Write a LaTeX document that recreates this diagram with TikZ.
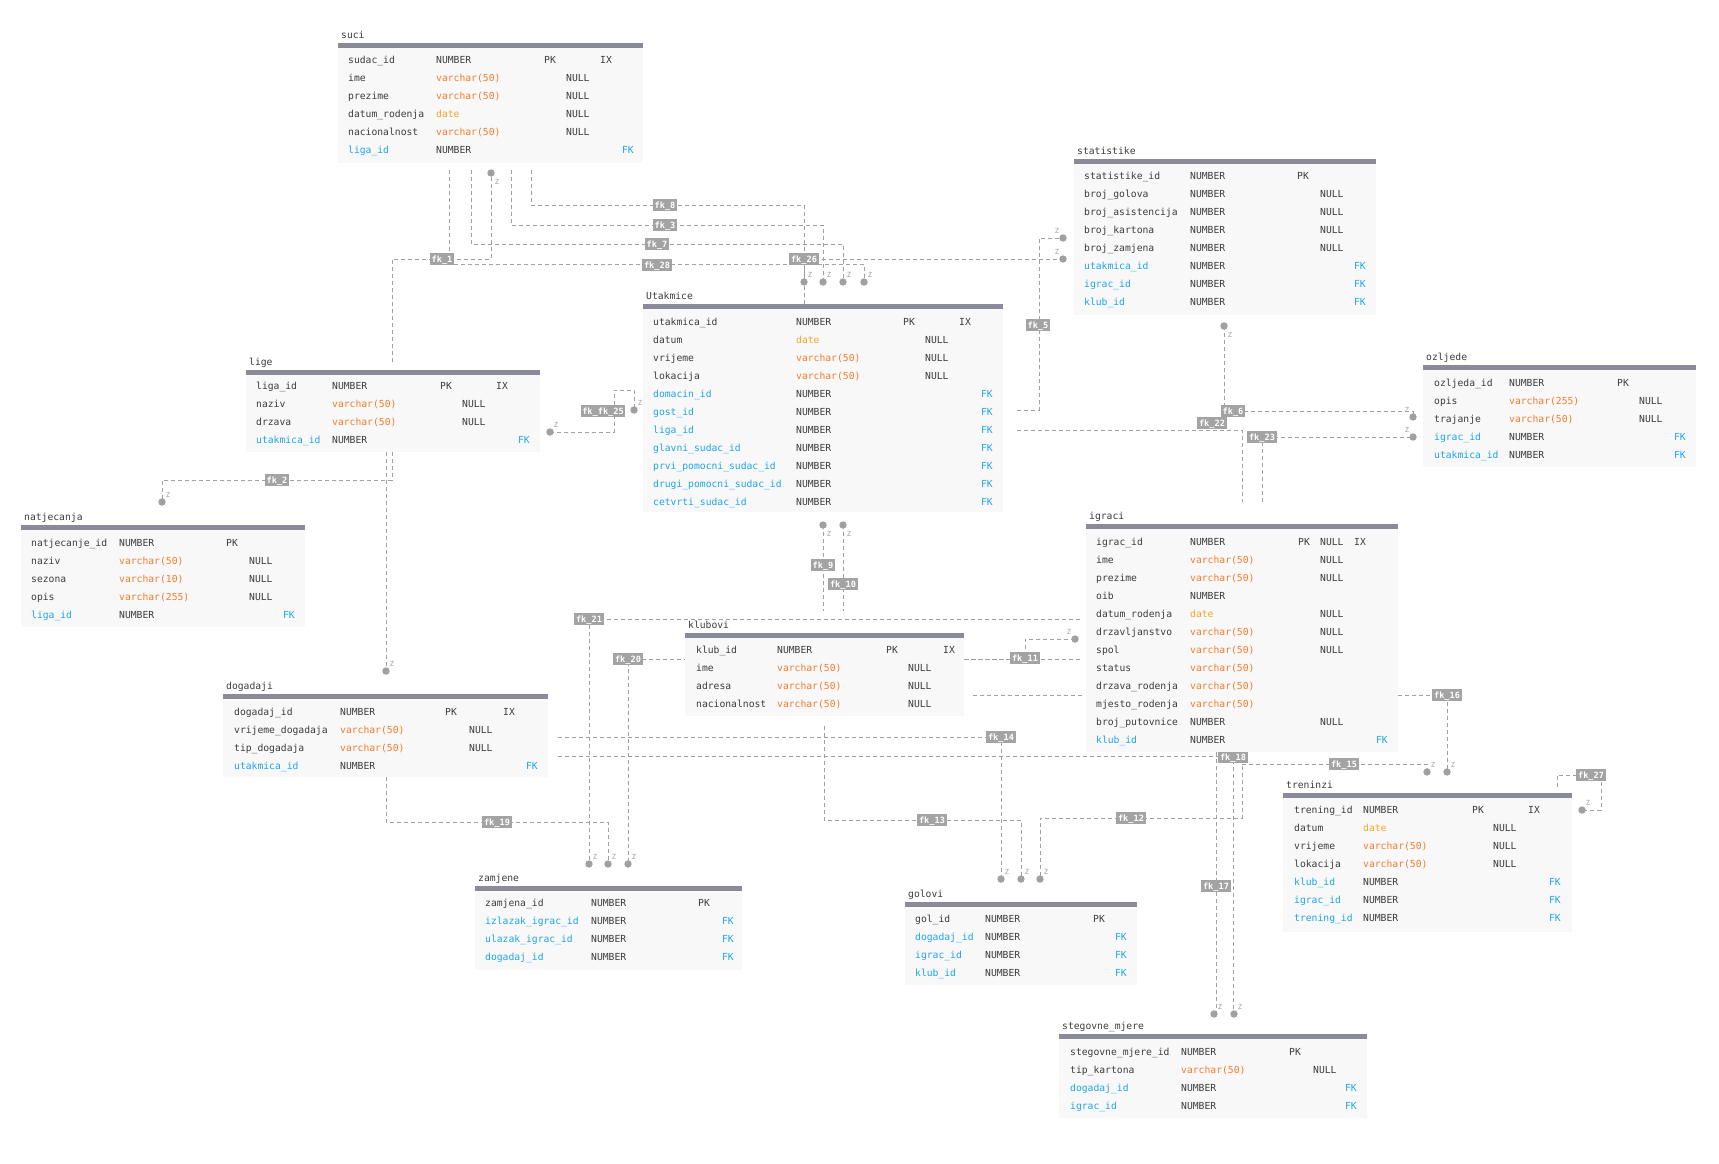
\documentclass[tikz,border=0pt]{standalone}
\usepackage{fontspec}
\newfontfamily\dmono{DejaVu Sans Mono}
\definecolor{txt}{HTML}{3C3C3C}
\definecolor{vch}{HTML}{F47B2A}
\definecolor{dat}{HTML}{F5A623}
\definecolor{fkc}{HTML}{1EA5EA}
\definecolor{barc}{HTML}{8A8A98}
\definecolor{bgc}{HTML}{F8F8F9}
\definecolor{lnc}{HTML}{A0A0A0}
\definecolor{labc}{HTML}{A3A3A3}
\tikzset{
  cell/.style={anchor=west, inner sep=0pt, text height=7.3pt, text depth=0pt,
    font=\fontsize{9.7}{11}\dmono, text=txt, yshift=-1pt},
  vc/.style={text=vch}, dt/.style={text=dat}, fkn/.style={text=fkc},
  rel/.style={draw=lnc, dash pattern=on 4pt off 3pt, line width=0.8pt},
  fklab/.style={fill=labc, text=white, inner sep=1.6pt, text height=7pt, text depth=1pt,
    font=\fontsize{8.6}{9}\dmono\bfseries},
  zl/.style={inner sep=0pt, font=\fontsize{7}{8}\dmono, text=lnc},
  tbox/.style={fill=bgc, inner sep=0pt, anchor=north west},
}
% table frame: id, title, x0, x1, y of bar, y of bottom
\newcommand\ertab[6]{%
  \node[tbox, minimum width={#4-#3}, minimum height={#6-#5}] (#1) at (#3,#5) {};
  \fill[barc] (#3,#5) rectangle (#4,#5+5);
  \node[cell] (#1-title) at (#3+3,#5-9.5) {#2};
}
% plain row: prefix, y, name, type style, type, pk, null, ix
\newcommand\prow[8]{%
  \node[cell] (#1n) at (\cN,#2) {#3};
  \node[cell,#4] (#1t) at (\cT,#2) {#5};
  \node[cell] (#1p) at (\cP,#2) {#6};
  \node[cell] (#1u) at (\cU,#2) {#7};
  \node[cell] (#1i) at (\cI,#2) {#8};
}
% foreign key row: prefix, y, name
\newcommand\krow[3]{%
  \node[cell,fkn] (#1n) at (\cN,#2) {#3};
  \node[cell] (#1t) at (\cT,#2) {NUMBER};
  \node[cell,fkn,anchor=east] (#1f) at (\cF,#2) {FK};
}
% end dot with its Z mark: name, position, offset of the mark
\newcommand\edot[3]{%
  \coordinate (#1) at #2;
  \fill[lnc] (#1) circle (3.7pt);
  \node[zl] (#1-z) at ([shift={#3}]#1) {Z};
}
\def\zur{(6,-7)}
\def\zdr{(6,9)}
\def\zul{(-6,-7)}
\begin{document}
\begin{tikzpicture}[x=1pt,y=-1pt]
\useasboundingbox (0,0) rectangle (1719,1163);
\fill[white] (0,0) rectangle (1719,1163);

% ---------- relationship end points ----------
\edot{d8}{(804,282)}{\zur}
\edot{d3}{(823,282)}{\zur}
\edot{d7}{(843,282)}{\zur}
\edot{d28}{(864,282)}{\zur}
\edot{d1}{(491,173)}{\zdr}
\edot{d26}{(1063,259)}{\zul}
\edot{d5}{(1063,238)}{\zul}
\edot{d2}{(162,502)}{\zur}
\edot{d4}{(386,671)}{\zur}
\edot{d19}{(608,864)}{\zur}
\edot{d21}{(589,864)}{\zur}
\edot{d20}{(628,864)}{\zur}
\edot{d11}{(1075,639)}{\zul}
\edot{d14}{(1001,879)}{\zur}
\edot{d13}{(1021,879)}{\zur}
\edot{d12}{(1040,879)}{\zur}
\edot{d17}{(1214,1014)}{\zur}
\edot{d18}{(1234,1014)}{\zur}
\edot{d15}{(1427,772)}{\zur}
\edot{d16}{(1447,772)}{\zur}
\edot{d27}{(1582,810)}{\zur}
\edot{d6}{(1413,417)}{\zul}
\edot{d23}{(1413,437)}{\zul}
\edot{d22}{(1224,326)}{\zdr}
\edot{d25}{(634,410)}{\zur}
\edot{d25b}{(550,432)}{\zur}
\edot{d9}{(823,525)}{\zdr}
\edot{d10}{(843,525)}{\zdr}

% ---------- relationship lines ----------
\draw[rel] (531,170) -- (531,205) -- (804,205) -- (d8);
\draw[rel] (511,170) -- (511,225) -- (823,225) -- (d3);
\draw[rel] (471,170) -- (471,244) -- (843,244) -- (d7);
\draw[rel] (449.5,170) -- (449.5,264) -- (864,264) -- (d28);
\draw[rel] (392,362) -- (392,259) -- (491,259) -- (d1);
\draw[rel] (804,304) -- (804,259) -- (d26);
\draw[rel] (1017,410) -- (1039,410) -- (1039,238) -- (d5);
\draw[rel] (392,452) -- (392,480) -- (162,480) -- (d2);
\draw[rel] (386,452) -- (d4);
\draw[rel] (386,777) -- (386,822) -- (608,822) -- (d19);
\draw[rel] (1080,619) -- (589,619) -- (d21);
\draw[rel] (1080,659) -- (628,659) -- (d20);
\draw[rel] (965,659) -- (1025,659) -- (1025,639) -- (d11);
\draw[rel] (973,695) -- (1083,695);
\draw[rel] (558,737) -- (1001,737) -- (d14);
\draw[rel] (824,726) -- (824,820) -- (1021,820) -- (d13);
\draw[rel] (1242,752) -- (1242,818) -- (1040,818) -- (d12);
\draw[rel] (558,756) -- (1233,756) -- (1233,1014) -- (d18);
\draw[rel] (1216,752) -- (1216,1014) -- (d17);
\draw[rel] (1242,764) -- (1427,764) -- (d15);
\draw[rel] (1398,695) -- (1447,695) -- (d16);
\draw[rel] (1557,787) -- (1557,775) -- (1601,775) -- (1601,810) -- (d27);
\draw[rel] (d22) -- (1224,411) -- (1413,411) -- (d6);
\draw[rel] (1017,430) -- (1242,430) -- (1242,502);
\draw[rel] (1262,502) -- (1262,437) -- (d23);
\draw[rel] (d25b) -- (614,432) -- (614,390) -- (634,390) -- (d25);
\draw[rel] (d9) -- (823,611);
\draw[rel] (d10) -- (843,611);

% ---------- relationship names ----------
\node[fklab] (l8) at (665,205) {fk\_8};
\node[fklab] (l3) at (665,225) {fk\_3};
\node[fklab] (l7) at (657,244) {fk\_7};
\node[fklab] (l28) at (657,265) {fk\_28};
\node[fklab] (l1) at (442,259) {fk\_1};
\node[fklab] (l26) at (804,259) {fk\_26};
\node[fklab] (l5) at (1038,325) {fk\_5};
\node[fklab] (l2) at (277,480) {fk\_2};
\node[fklab] (l19) at (497,822) {fk\_19};
\node[fklab] (l21) at (589,619) {fk\_21};
\node[fklab] (l20) at (628,659) {fk\_20};
\node[fklab] (l11) at (1025,658) {fk\_11};
\node[fklab] (l14) at (1001,737) {fk\_14};
\node[fklab] (l13) at (932,820) {fk\_13};
\node[fklab] (l12) at (1131,818) {fk\_12};
\node[fklab] (l18) at (1233,757) {fk\_18};
\node[fklab] (l17) at (1216,886) {fk\_17};
\node[fklab] (l15) at (1344,764) {fk\_15};
\node[fklab] (l16) at (1447,695) {fk\_16};
\node[fklab] (l27) at (1591,775) {fk\_27};
\node[fklab] (l6) at (1233,411) {fk\_6};
\node[fklab] (l22) at (1212,423) {fk\_22};
\node[fklab] (l23) at (1262,437) {fk\_23};
\node[fklab] (l25) at (603,411) {fk\_fk\_25};
\node[fklab] (l9) at (823,565) {fk\_9};
\node[fklab] (l10) at (843,584) {fk\_10};

% ---------- tables ----------
% suci
\def\cN{348}\def\cT{436}\def\cP{544}\def\cU{566}\def\cI{600}\def\cF{634}
\ertab{suci}{suci}{338}{643}{43}{163}
\prow{su1}{59}{sudac\_id}{}{NUMBER}{PK}{}{IX}
\prow{su2}{77}{ime}{vc}{varchar(50)}{}{NULL}{}
\prow{su3}{95}{prezime}{vc}{varchar(50)}{}{NULL}{}
\prow{su4}{113}{datum\_rodenja}{dt}{date}{}{NULL}{}
\prow{su5}{131}{nacionalnost}{vc}{varchar(50)}{}{NULL}{}
\krow{su6}{149}{liga\_id}

% statistike
\def\cN{1084}\def\cT{1190}\def\cP{1297}\def\cU{1320}\def\cI{1354}\def\cF{1366}
\ertab{stat}{statistike}{1074}{1376}{159}{315}
\prow{st1}{175}{statistike\_id}{}{NUMBER}{PK}{}{}
\prow{st2}{193}{broj\_golova}{}{NUMBER}{}{NULL}{}
\prow{st3}{211}{broj\_asistencija}{}{NUMBER}{}{NULL}{}
\prow{st4}{229}{broj\_kartona}{}{NUMBER}{}{NULL}{}
\prow{st5}{247}{broj\_zamjena}{}{NUMBER}{}{NULL}{}
\krow{st6}{265}{utakmica\_id}
\krow{st7}{283}{igrac\_id}
\krow{st8}{301}{klub\_id}

% Utakmice
\def\cN{653}\def\cT{796}\def\cP{903}\def\cU{925}\def\cI{959}\def\cF{993}
\ertab{utak}{Utakmice}{643}{1003}{304}{512}
\prow{ut1}{321}{utakmica\_id}{}{NUMBER}{PK}{}{IX}
\prow{ut2}{339}{datum}{dt}{date}{}{NULL}{}
\prow{ut3}{357}{vrijeme}{vc}{varchar(50)}{}{NULL}{}
\prow{ut4}{375}{lokacija}{vc}{varchar(50)}{}{NULL}{}
\krow{ut5}{393}{domacin\_id}
\krow{ut6}{411}{gost\_id}
\krow{ut7}{429}{liga\_id}
\krow{ut8}{447}{glavni\_sudac\_id}
\krow{ut9}{465}{prvi\_pomocni\_sudac\_id}
\krow{ut10}{483}{drugi\_pomocni\_sudac\_id}
\krow{ut11}{501}{cetvrti\_sudac\_id}

% lige
\def\cN{256}\def\cT{332}\def\cP{440}\def\cU{462}\def\cI{496}\def\cF{530}
\ertab{lige}{lige}{246}{540}{370}{452}
\prow{li1}{385}{liga\_id}{}{NUMBER}{PK}{}{IX}
\prow{li2}{403}{naziv}{vc}{varchar(50)}{}{NULL}{}
\prow{li3}{421}{drzava}{vc}{varchar(50)}{}{NULL}{}
\krow{li4}{439}{utakmica\_id}

% natjecanja
\def\cN{31}\def\cT{119}\def\cP{226}\def\cU{249}\def\cI{280}\def\cF{295}
\ertab{natj}{natjecanja}{21}{305}{525}{627}
\prow{na1}{542}{natjecanje\_id}{}{NUMBER}{PK}{}{}
\prow{na2}{560}{naziv}{vc}{varchar(50)}{}{NULL}{}
\prow{na3}{578}{sezona}{vc}{varchar(10)}{}{NULL}{}
\prow{na4}{596}{opis}{vc}{varchar(255)}{}{NULL}{}
\krow{na5}{614}{liga\_id}

% igraci
\def\cN{1096}\def\cT{1190}\def\cP{1298}\def\cU{1320}\def\cI{1354}\def\cF{1388}
\ertab{igr}{igraci}{1086}{1398}{524}{752}
\prow{ig1}{541}{igrac\_id}{}{NUMBER}{PK}{NULL}{IX}
\prow{ig2}{559}{ime}{vc}{varchar(50)}{}{NULL}{}
\prow{ig3}{577}{prezime}{vc}{varchar(50)}{}{NULL}{}
\prow{ig4}{595}{oib}{}{NUMBER}{}{}{}
\prow{ig5}{613}{datum\_rodenja}{dt}{date}{}{NULL}{}
\prow{ig6}{631}{drzavljanstvo}{vc}{varchar(50)}{}{NULL}{}
\prow{ig7}{649}{spol}{vc}{varchar(50)}{}{NULL}{}
\prow{ig8}{667}{status}{vc}{varchar(50)}{}{}{}
\prow{ig9}{685}{drzava\_rodenja}{vc}{varchar(50)}{}{}{}
\prow{ig10}{703}{mjesto\_rodenja}{vc}{varchar(50)}{}{}{}
\prow{ig11}{721}{broj\_putovnice}{}{NUMBER}{}{NULL}{}
\krow{ig12}{739}{klub\_id}

% ozljede
\def\cN{1434}\def\cT{1509}\def\cP{1617}\def\cU{1639}\def\cI{1670}\def\cF{1686}
\ertab{ozl}{ozljede}{1423}{1696}{365}{467}
\prow{oz1}{382}{ozljeda\_id}{}{NUMBER}{PK}{}{}
\prow{oz2}{400}{opis}{vc}{varchar(255)}{}{NULL}{}
\prow{oz3}{418}{trajanje}{vc}{varchar(50)}{}{NULL}{}
\krow{oz4}{436}{igrac\_id}
\krow{oz5}{454}{utakmica\_id}

% klubovi
\def\cN{696}\def\cT{777}\def\cP{886}\def\cU{908}\def\cI{943}\def\cF{954}
\ertab{klub}{klubovi}{685}{964}{633}{716}
\prow{kl1}{649}{klub\_id}{}{NUMBER}{PK}{}{IX}
\prow{kl2}{667}{ime}{vc}{varchar(50)}{}{NULL}{}
\prow{kl3}{685}{adresa}{vc}{varchar(50)}{}{NULL}{}
\prow{kl4}{703}{nacionalnost}{vc}{varchar(50)}{}{NULL}{}

% dogadaji
\def\cN{234}\def\cT{340}\def\cP{445}\def\cU{469}\def\cI{503}\def\cF{538}
\ertab{dog}{dogadaji}{223}{548}{694}{777}
\prow{do1}{711}{dogadaj\_id}{}{NUMBER}{PK}{}{IX}
\prow{do2}{729}{vrijeme\_dogadaja}{vc}{varchar(50)}{}{NULL}{}
\prow{do3}{747}{tip\_dogadaja}{vc}{varchar(50)}{}{NULL}{}
\krow{do4}{765}{utakmica\_id}

% zamjene
\def\cN{485}\def\cT{591}\def\cP{698}\def\cU{710}\def\cI{720}\def\cF{734}
\ertab{zam}{zamjene}{475}{742}{886}{970}
\prow{za1}{902}{zamjena\_id}{}{NUMBER}{PK}{}{}
\krow{za2}{920}{izlazak\_igrac\_id}
\krow{za3}{938}{ulazak\_igrac\_id}
\krow{za4}{956}{dogadaj\_id}

% golovi
\def\cN{915}\def\cT{985}\def\cP{1093}\def\cU{1105}\def\cI{1115}\def\cF{1127}
\ertab{gol}{golovi}{905}{1137}{902}{985}
\prow{go1}{918}{gol\_id}{}{NUMBER}{PK}{}{}
\krow{go2}{936}{dogadaj\_id}
\krow{go3}{954}{igrac\_id}
\krow{go4}{972}{klub\_id}

% treninzi
\def\cN{1294}\def\cT{1363}\def\cP{1472}\def\cU{1493}\def\cI{1528}\def\cF{1561}
\ertab{tren}{treninzi}{1283}{1572}{793}{932}
\prow{tr1}{809}{trening\_id}{}{NUMBER}{PK}{}{IX}
\prow{tr2}{827}{datum}{dt}{date}{}{NULL}{}
\prow{tr3}{845}{vrijeme}{vc}{varchar(50)}{}{NULL}{}
\prow{tr4}{863}{lokacija}{vc}{varchar(50)}{}{NULL}{}
\krow{tr5}{881}{klub\_id}
\krow{tr6}{899}{igrac\_id}
\krow{tr7}{917}{trening\_id}

% stegovne_mjere
\def\cN{1070}\def\cT{1181}\def\cP{1289}\def\cU{1313}\def\cI{1340}\def\cF{1357}
\ertab{steg}{stegovne\_mjere}{1059}{1367}{1034}{1118}
\prow{sm1}{1051}{stegovne\_mjere\_id}{}{NUMBER}{PK}{}{}
\prow{sm2}{1069}{tip\_kartona}{vc}{varchar(50)}{}{NULL}{}
\krow{sm3}{1087}{dogadaj\_id}
\krow{sm4}{1105}{igrac\_id}
\end{tikzpicture}
\end{document}
